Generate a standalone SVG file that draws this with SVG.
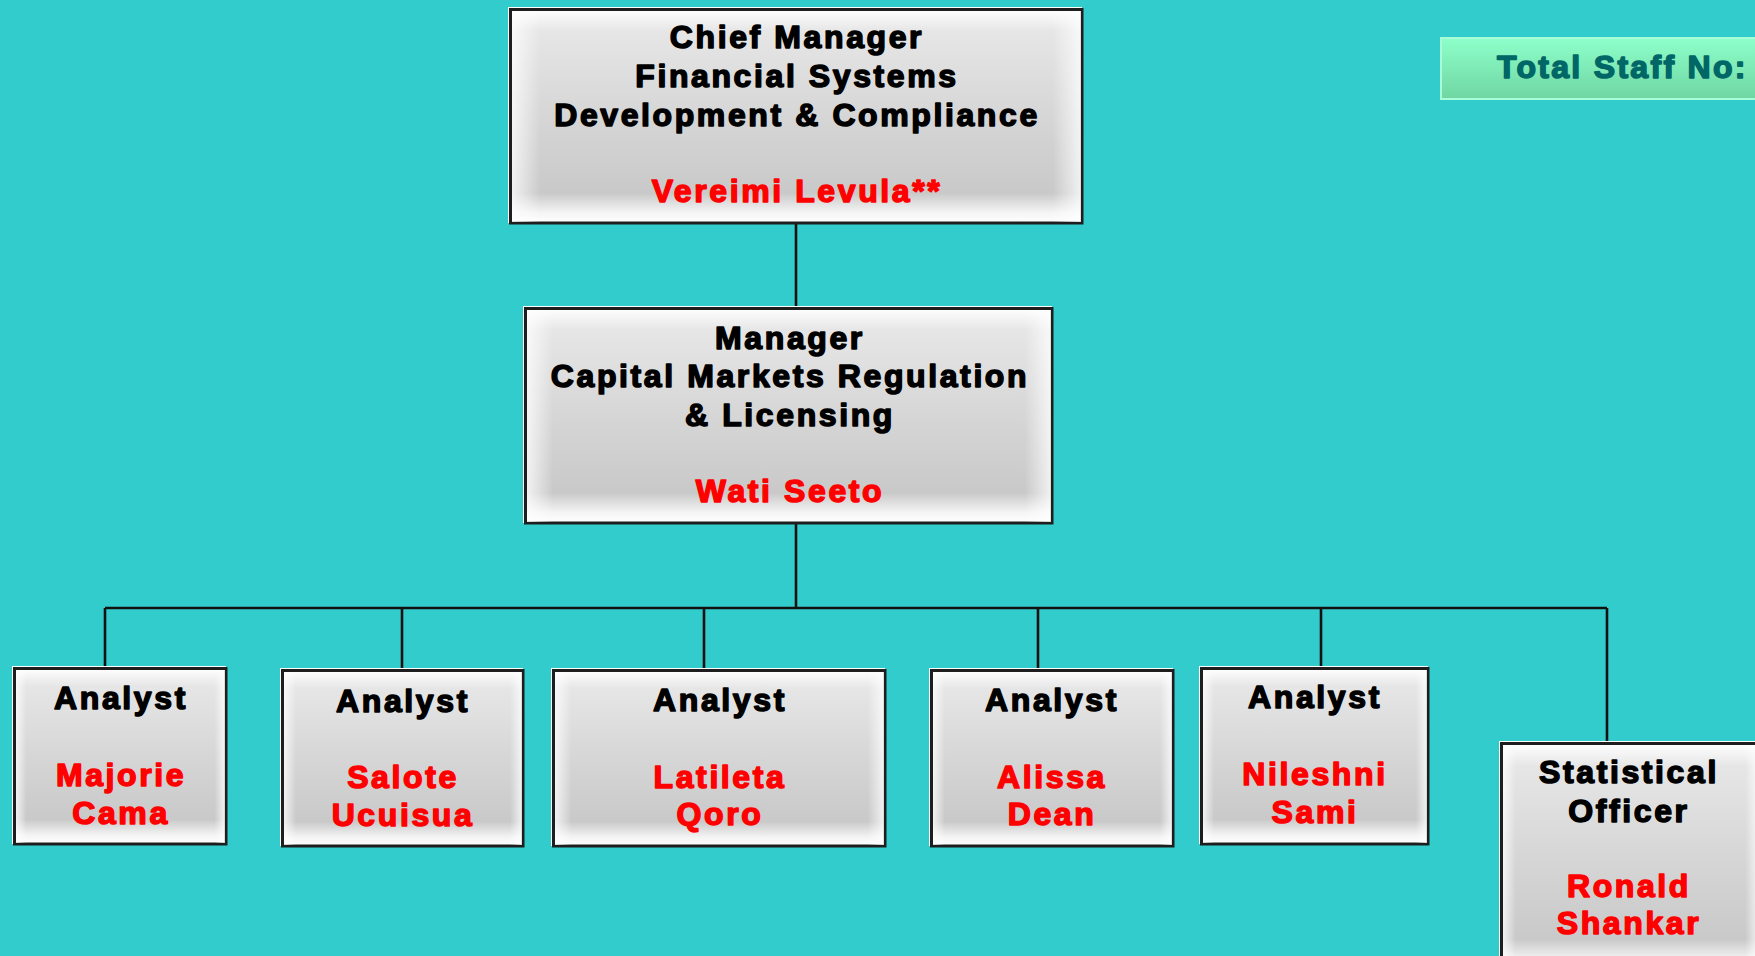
<svg xmlns="http://www.w3.org/2000/svg" width="1755" height="956" viewBox="0 0 1755 956">
<defs>
<linearGradient id="gv" x1="0" y1="0" x2="0" y2="1">
<stop offset="0" stop-color="#ffffff"/>
<stop offset="0.1" stop-color="#e6e6e6"/>
<stop offset="0.5" stop-color="#d6d6d6"/>
<stop offset="0.86" stop-color="#c9c9c9"/>
<stop offset="0.95" stop-color="#f4f4f4"/>
<stop offset="1" stop-color="#ffffff"/>
</linearGradient>
<linearGradient id="gh" x1="0" y1="0" x2="1" y2="0">
<stop offset="0" stop-color="#ffffff" stop-opacity="0.75"/>
<stop offset="0.05" stop-color="#ffffff" stop-opacity="0"/>
<stop offset="0.95" stop-color="#ffffff" stop-opacity="0"/>
<stop offset="1" stop-color="#ffffff" stop-opacity="0.75"/>
</linearGradient>
<linearGradient id="gg" x1="0" y1="0" x2="0" y2="1">
<stop offset="0" stop-color="#8effca"/>
<stop offset="1" stop-color="#6fd6a2"/>
</linearGradient>
</defs>
<style>
.bg{fill:#33cccc}
.hl{fill:#ffffff}
.bx{fill:url(#gv);stroke:#1e1e1e;stroke-width:3}
.ov{fill:url(#gh)}
.t{font-family:"Liberation Sans",Arial,sans-serif;font-weight:bold;font-size:32px;letter-spacing:2.6px;text-anchor:middle;stroke-width:1.5px;stroke-linejoin:round}
.k{fill:#000000;stroke:#000000}
.r{fill:#ff0000;stroke:#ff0000}
.cn{fill:none;stroke:#111111;stroke-width:2.6}
.tot{font-family:"Liberation Sans",Arial,sans-serif;font-weight:bold;font-size:32px;letter-spacing:2.3px;fill:#006666;stroke:#006666;stroke-width:1.5px;stroke-linejoin:round}
</style>
<rect class="bg" x="0" y="0" width="1755" height="956"/>

<g id="connectors">
<path class="cn" d="M796 224 V308 M796 524 V608 M105 608 H1607 M105 608 V667 M402 608 V669 M704 608 V669 M1038 608 V669 M1321 608 V667 M1607 608 V742"/>
</g>

<g id="total-staff">
<rect x="1441" y="38" width="320" height="61" fill="url(#gg)" stroke="#a6ffd6" stroke-width="2"/>
<text class="tot" x="1497" y="78">Total Staff No:</text>
</g>

<g id="chief-manager">
<rect class="hl" x="508" y="7" width="574" height="216"/>
<rect class="bx" x="510.5" y="9.5" width="571.5" height="213.5"/>
<rect class="ov" x="512" y="11" width="569" height="211"/>
<text class="t k" x="797" y="48">Chief Manager</text>
<text class="t k" x="797" y="87">Financial Systems</text>
<text class="t k" x="797" y="126">Development &amp; Compliance</text>
<text class="t r" x="797" y="202">Vereimi Levula**</text>
</g>

<g id="manager">
<rect class="hl" x="523" y="306" width="529" height="217"/>
<rect class="bx" x="525.5" y="308.5" width="526.5" height="214.5"/>
<rect class="ov" x="527" y="310" width="524" height="212"/>
<text class="t k" x="790" y="349">Manager</text>
<text class="t k" x="790" y="387">Capital Markets Regulation</text>
<text class="t k" x="790" y="426">&amp; Licensing</text>
<text class="t r" x="790" y="502">Wati Seeto</text>
</g>

<g id="analyst-1">
<rect class="hl" x="12" y="666" width="214" height="178"/>
<rect class="bx" x="14.5" y="668.5" width="211.5" height="175.5"/>
<rect class="ov" x="16" y="670" width="209" height="173"/>
<text class="t k" x="121" y="709">Analyst</text>
<text class="t r" x="121" y="786">Majorie</text>
<text class="t r" x="121" y="824">Cama</text>
</g>

<g id="analyst-2">
<rect class="hl" x="280" y="668" width="243" height="178"/>
<rect class="bx" x="282.5" y="670.5" width="240.5" height="175.5"/>
<rect class="ov" x="284" y="672" width="238" height="173"/>
<text class="t k" x="403" y="712">Analyst</text>
<text class="t r" x="403" y="788">Salote</text>
<text class="t r" x="403" y="826">Ucuisua</text>
</g>

<g id="analyst-3">
<rect class="hl" x="551" y="668" width="334" height="178"/>
<rect class="bx" x="553.5" y="670.5" width="331.5" height="175.5"/>
<rect class="ov" x="555" y="672" width="329" height="173"/>
<text class="t k" x="720" y="711">Analyst</text>
<text class="t r" x="720" y="788">Latileta</text>
<text class="t r" x="720" y="825">Qoro</text>
</g>

<g id="analyst-4">
<rect class="hl" x="929" y="668" width="244" height="178"/>
<rect class="bx" x="931.5" y="670.5" width="241.5" height="175.5"/>
<rect class="ov" x="933" y="672" width="239" height="173"/>
<text class="t k" x="1052" y="711">Analyst</text>
<text class="t r" x="1052" y="788">Alissa</text>
<text class="t r" x="1052" y="825">Dean</text>
</g>

<g id="analyst-5">
<rect class="hl" x="1199" y="666" width="229" height="178"/>
<rect class="bx" x="1201.5" y="668.5" width="226.5" height="175.5"/>
<rect class="ov" x="1203" y="670" width="224" height="173"/>
<text class="t k" x="1315" y="708">Analyst</text>
<text class="t r" x="1315" y="785">Nileshni</text>
<text class="t r" x="1315" y="823">Sami</text>
</g>

<g id="statistical-officer">
<rect class="hl" x="1499" y="741" width="260" height="230"/>
<rect class="bx" x="1501.5" y="743.5" width="257.5" height="227.5"/>
<rect class="ov" x="1503" y="745" width="255" height="224"/>
<text class="t k" x="1629" y="783">Statistical</text>
<text class="t k" x="1629" y="822">Officer</text>
<text class="t r" x="1629" y="897">Ronald</text>
<text class="t r" x="1629" y="934">Shankar</text>
</g>
</svg>
